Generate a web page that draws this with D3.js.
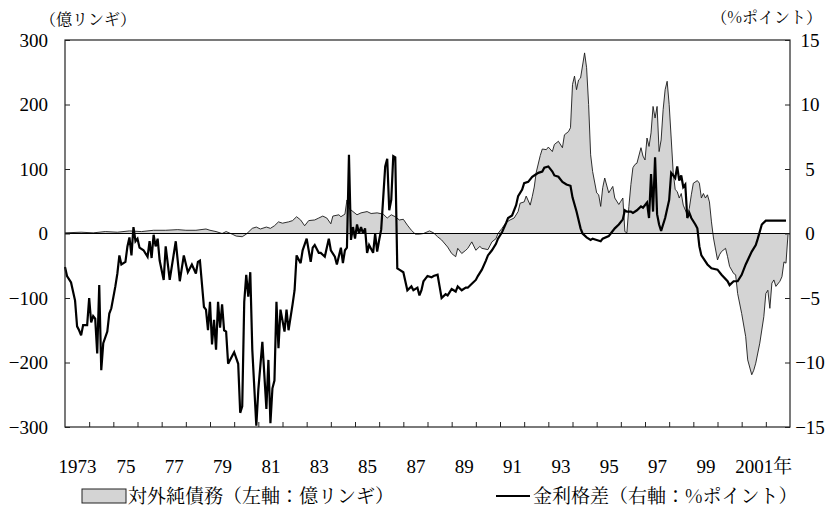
<!DOCTYPE html>
<html><head><meta charset="utf-8">
<script src="https://cdn.jsdelivr.net/npm/d3@7"></script>
<style>
body{margin:0;background:#fff;}
svg{display:block;}
.num{font-family:"Liberation Serif","Times New Roman",serif;font-size:19px;fill:#000;}
.jp{font-family:"Noto Serif CJK JP","Noto Sans CJK JP",sans-serif;font-size:16px;fill:#000;}
.lg{font-family:"Noto Serif CJK JP","Noto Sans CJK JP",sans-serif;font-size:19px;fill:#000;}
</style></head>
<body>
<svg id="c" width="839" height="518"></svg>
<script>
// ---- data ----
const spreadDates = ["1973-01","1973-02","1973-04","1973-06","1973-07","1973-08","1973-09","1973-10","1973-12","1974-01","1974-02","1974-03","1974-04","1974-05","1974-06","1974-07","1974-08","1974-10","1974-11","1974-12","1975-02","1975-03","1975-04","1975-05","1975-07","1975-08","1975-09","1975-10","1975-11","1975-12","1976-01","1976-02","1976-04","1976-06","1976-07","1976-08","1976-09","1976-10","1976-11","1976-12","1977-02","1977-03","1977-05","1977-08","1977-10","1977-12","1978-02","1978-04","1978-06","1978-07","1978-08","1978-10","1978-11","1978-12","1979-01","1979-02","1979-03","1979-04","1979-05","1979-06","1979-07","1979-08","1979-09","1979-10","1979-12","1980-01","1980-03","1980-04","1980-05","1980-06","1980-07","1980-08","1980-09","1980-10","1980-12","1981-01","1981-03","1981-05","1981-06","1981-07","1981-08","1981-09","1981-10","1981-11","1981-12","1982-02","1982-03","1982-04","1982-06","1982-07","1982-08","1982-10","1982-11","1983-01","1983-03","1983-04","1983-05","1983-07","1983-08","1983-10","1983-12","1984-01","1984-03","1984-04","1984-06","1984-07","1984-08","1984-09","1984-10","1984-11","1984-12","1985-01","1985-02","1985-03","1985-04","1985-05","1985-06","1985-07","1985-08","1985-10","1985-11","1985-12","1986-01","1986-02","1986-04","1986-05","1986-06","1986-07","1986-08","1986-09","1986-10","1986-11","1987-01","1987-02","1987-03","1987-05","1987-06","1987-08","1987-09","1987-10","1987-11","1987-12","1988-01","1988-03","1988-04","1988-06","1988-07","1988-08","1988-10","1988-11","1989-01","1989-03","1989-04","1989-06","1989-08","1989-09","1989-11","1990-01","1990-02","1990-04","1990-06","1990-07","1990-09","1990-11","1990-12","1991-02","1991-04","1991-05","1991-07","1991-09","1991-10","1991-12","1992-01","1992-03","1992-05","1992-06","1992-08","1992-10","1992-11","1993-01","1993-03","1993-04","1993-06","1993-08","1993-10","1993-12","1994-01","1994-03","1994-05","1994-06","1994-08","1994-10","1994-11","1995-01","1995-03","1995-04","1995-07","1995-08","1995-10","1995-12","1996-02","1996-03","1996-04","1996-06","1996-07","1996-09","1996-11","1996-12","1997-02","1997-03","1997-04","1997-05","1997-06","1997-07","1997-08","1997-09","1997-11","1998-01","1998-02","1998-04","1998-05","1998-06","1998-07","1998-08","1998-09","1998-10","1998-11","1998-12","1999-02","1999-03","1999-04","1999-05","1999-08","1999-10","2000-01","2000-03","2000-06","2000-07","2000-09","2000-11","2001-01","2001-03","2001-06","2001-08","2001-09","2001-11","2002-01","2002-06","2002-11"];
const spreadValues = [-2.6,-3.3,-3.8,-5.2,-7.2,-7.5,-7.9,-7.1,-7.1,-5.0,-6.9,-6.4,-6.6,-9.3,-4.0,-10.6,-8.5,-7.6,-6.2,-5.8,-4.1,-3.1,-1.7,-2.4,-2.2,-1.0,-0.3,-1.7,0.5,-0.6,-0.4,-1.1,-1.3,-1.8,-0.6,-1.9,-0.1,-1.0,-0.4,-2.1,-3.6,-1.0,-3.6,-0.6,-3.7,-1.7,-3.0,-2.4,-3.1,-2.2,-2.1,-5.7,-5.9,-7.5,-5.3,-8.6,-6.7,-9.0,-5.3,-7.3,-5.5,-7.5,-7.6,-10.1,-9.5,-9.2,-10.1,-13.9,-13.4,-5.3,-3.2,-4.9,-3.0,-9.0,-14.9,-12.1,-8.4,-13.6,-9.8,-14.7,-12.0,-11.4,-5.3,-8.9,-5.9,-7.6,-5.9,-7.5,-5.5,-4.4,-1.7,-2.3,-1.3,-0.4,-2.2,-1.1,-0.9,-1.5,-1.5,-1.8,-0.4,-1.3,-1.8,-2.4,-1.1,-2.3,-1.3,-1.1,6.1,-0.5,0.5,-0.4,0.7,0.0,0.5,0.0,0.4,-1.5,-0.9,-1.5,0.0,-1.4,-0.5,0.3,5.2,5.8,1.8,2.6,6.0,5.9,-2.7,-2.8,-3.0,-3.7,-4.4,-4.1,-4.4,-4.2,-4.8,-4.4,-3.7,-3.5,-3.3,-3.4,-3.3,-3.2,-4.1,-5.0,-4.7,-4.8,-4.3,-4.5,-4.1,-4.4,-4.2,-4.2,-3.9,-3.6,-3.3,-2.8,-2.1,-1.7,-1.3,-0.8,-0.4,0.1,0.8,1.2,1.4,2.2,2.9,3.4,3.9,4.0,4.4,4.5,4.7,4.8,5.1,5.2,4.8,4.5,4.4,4.0,3.8,3.7,2.8,1.7,0.4,0.0,-0.3,-0.5,-0.4,-0.5,-0.6,-0.4,-0.2,0.0,0.4,0.7,1.1,1.8,1.7,1.7,1.6,1.8,2.1,2.0,2.4,1.2,4.6,1.7,5.9,1.5,0.7,0.2,1.2,2.6,4.7,4.3,5.2,4.1,4.5,3.6,3.8,1.2,1.6,1.2,0.7,0.4,-1.0,-1.7,-2.4,-2.7,-2.8,-3.2,-3.7,-4.0,-3.7,-3.7,-3.2,-2.4,-1.4,-0.9,-0.4,0.7,1.0,1.0,1.0];

const debtDates = ["1973-01","1973-09","1974-03","1974-09","1975-03","1975-09","1976-03","1976-09","1977-03","1977-09","1978-01","1978-06","1978-11","1979-01","1979-04","1979-07","1979-09","1979-12","1980-02","1980-05","1980-07","1980-10","1980-12","1981-02","1981-05","1981-07","1981-09","1981-11","1982-01","1982-04","1982-06","1982-08","1982-10","1982-12","1983-02","1983-05","1983-07","1983-09","1983-11","1984-01","1984-02","1984-05","1984-06","1984-08","1984-09","1984-10","1984-12","1985-02","1985-04","1985-07","1985-09","1985-12","1986-03","1986-05","1986-07","1986-09","1986-11","1987-01","1987-03","1987-05","1987-07","1987-09","1987-11","1988-02","1988-04","1988-06","1988-08","1988-11","1989-01","1989-03","1989-04","1989-06","1989-08","1989-09","1989-11","1990-01","1990-03","1990-04","1990-07","1990-09","1990-11","1990-12","1991-02","1991-04","1991-06","1991-08","1991-10","1991-11","1992-01","1992-02","1992-04","1992-05","1992-06","1992-07","1992-09","1992-10","1992-12","1993-01","1993-03","1993-04","1993-06","1993-08","1993-09","1993-11","1993-12","1994-01","1994-02","1994-03","1994-04","1994-05","1994-07","1994-08","1994-09","1994-10","1994-11","1995-01","1995-02","1995-03","1995-04","1995-05","1995-07","1995-08","1995-09","1995-10","1995-12","1996-01","1996-02","1996-03","1996-04","1996-05","1996-06","1996-07","1996-08","1996-09","1996-11","1996-12","1997-01","1997-02","1997-03","1997-04","1997-05","1997-06","1997-07","1997-08","1997-09","1997-10","1997-11","1997-12","1998-01","1998-02","1998-03","1998-04","1998-05","1998-06","1998-07","1998-08","1998-10","1998-11","1998-12","1999-01","1999-03","1999-04","1999-05","1999-06","1999-07","1999-08","1999-09","1999-10","1999-11","2000-01","2000-02","2000-03","2000-05","2000-06","2000-07","2000-09","2000-10","2000-11","2001-01","2001-03","2001-04","2001-06","2001-07","2001-08","2001-10","2001-12","2002-01","2002-02","2002-03","2002-04","2002-05","2002-06","2002-08","2002-09","2002-10","2002-11","2002-12"];
const debtValues = [1,2,1,3,2,4,3,5,5,6,5,5,7,5,3,0,3,-1,-4,-5,-1,8,10,7,10,8,12,18,16,18,20,26,21,12,20,21,24,27,24,15,27,29,26,30,52,39,34,29,32,34,31,32,30,24,29,26,21,22,13,5,-1,-1,0,4,1,-5,-10,-21,-31,-36,-23,-31,-26,-23,-13,-26,-20,-23,-25,-13,-8,0,8,17,21,24,34,47,49,58,44,57,72,95,121,131,130,134,127,138,143,133,153,158,164,231,244,223,238,241,280,257,200,122,96,63,60,42,71,86,63,68,73,55,45,50,55,3,1,42,76,102,107,109,133,120,114,148,135,156,197,179,197,127,145,192,223,236,200,148,95,68,65,55,62,44,29,39,60,78,82,78,55,62,55,60,49,18,-7,-41,-33,-28,-23,-36,-51,-62,-64,-93,-124,-160,-196,-219,-212,-201,-170,-129,-93,-88,-116,-77,-72,-82,-74,-67,-44,-46,-2];

const leftTicks = [300,200,100,0,-100,-200,-300];
const rightTicks = [15,10,5,0,-5,-10,-15];
const xLabelYears = [1973,1975,1977,1979,1981,1983,1985,1987,1989,1991,1993,1995,1997,1999,2001];
const xLabels = ["1973","75","77","79","81","83","85","87","89","91","93","95","97","99","2001"];
const yearUnit = "年";
const leftUnit = "（億リンギ）";
const rightUnit = "（%ポイント）";
const legendDebt = "対外純債務（左軸：億リンギ）";
const legendSpread = "金利格差（右軸：%ポイント）";

// ---- helpers ----
const START = 1973, NMONTHS = 360;
const toMonth = s => { const [y,m] = s.split("-").map(Number); return (y-START)*12 + (m-1); };
const spread = spreadDates.map((d,i)=>({m:toMonth(d), v:spreadValues[i]}));
const debt = debtDates.map((d,i)=>({m:toMonth(d), v:debtValues[i]}));
const fmt = d => d < 0 ? "\u2212" + Math.abs(d) : String(d);

const L=65, R=790, T=40, B=427;
const svg = d3.select("#c");
const x = d3.scaleLinear().domain([0, NMONTHS]).range([L, R]);
const yL = d3.scaleLinear().domain([-300, 300]).range([B, T]);
const yR = d3.scaleLinear().domain([-15, 15]).range([B, T]);

// debt area
svg.append("path").datum(debt)
  .attr("d", d3.area().x(d=>x(d.m)).y0(yL(0)).y1(d=>yL(d.v)))
  .attr("fill", "#d4d4d4");
svg.append("path").datum(debt)
  .attr("d", d3.line().x(d=>x(d.m)).y(d=>yL(d.v)))
  .attr("fill", "none").attr("stroke", "#1a1a1a").attr("stroke-width", 0.9);

// zero line
svg.append("line").attr("x1", L).attr("x2", R).attr("y1", yL(0)).attr("y2", yL(0))
  .attr("stroke", "#000").attr("stroke-width", 1.2);

// spread line
svg.append("path").datum(spread)
  .attr("d", d3.line().x(d=>x(d.m)).y(d=>yR(d.v)))
  .attr("fill", "none").attr("stroke", "#000").attr("stroke-width", 2.2)
  .attr("stroke-linejoin", "miter").attr("stroke-miterlimit", 3);

// frame
svg.append("rect").attr("x", L).attr("y", T).attr("width", R-L).attr("height", B-T)
  .attr("fill", "none").attr("stroke", "#222").attr("stroke-width", 1.2);

// axes
const gl = svg.append("g").attr("transform", `translate(${L},0)`)
  .call(d3.axisLeft(yL).tickValues(leftTicks).tickSizeInner(-5).tickSizeOuter(0).tickPadding(17).tickFormat(fmt));
const gr = svg.append("g").attr("transform", `translate(${R},0)`)
  .call(d3.axisRight(yR).tickValues(rightTicks).tickSizeInner(-5).tickSizeOuter(0).tickPadding(20).tickFormat(fmt));
gr.selectAll("text").attr("text-anchor", "middle");
const gb = svg.append("g").attr("transform", `translate(0,${B})`)
  .call(d3.axisBottom(x).tickValues(d3.range(12, NMONTHS, 12)).tickSizeInner(-5).tickSizeOuter(0).tickFormat(""));
const gx = svg.append("g").attr("transform", `translate(0,${B})`)
  .call(d3.axisBottom(x).tickValues(xLabelYears.map(y=>(y-START)*12+6)).tickSize(0).tickPadding(33)
    .tickFormat((d,i)=>xLabels[i]));
[gl,gr,gb,gx].forEach(g=>{
  g.select(".domain").remove();
  g.selectAll("line").attr("stroke","#222").attr("stroke-width",1);
  g.selectAll("text").attr("class","num").attr("font-family",null).attr("font-size",null).attr("fill",null);
});
// year unit after last label
const lastTick = gx.selectAll(".tick").filter((d,i,n)=>i===n.length-1);
const lastText = lastTick.select("text");
const lw = lastText.node().getComputedTextLength();
lastTick.append("text").attr("class","jp").attr("x", lw/2).attr("y", lastText.attr("y"))
  .attr("dy", lastText.attr("dy")).attr("text-anchor","start").style("font-size","19px").text(yearUnit);

// unit labels
svg.append("text").attr("class","jp").attr("x", 40).attr("y", 25).text(leftUnit);
svg.append("text").attr("class","jp").attr("x", 822).attr("y", 23).attr("text-anchor","end").text(rightUnit);

// legend
const ly = 496;
svg.append("rect").attr("x", 82).attr("y", ly-7).attr("width", 44).attr("height", 14)
  .attr("fill", "#d4d4d4").attr("stroke", "#222").attr("stroke-width", 1);
svg.append("text").attr("class","lg").attr("x", 128).attr("y", ly+7).text(legendDebt);
svg.append("line").attr("x1", 496).attr("x2", 530).attr("y1", ly).attr("y2", ly)
  .attr("stroke","#000").attr("stroke-width",2);
svg.append("text").attr("class","lg").attr("x", 533).attr("y", ly+7).text(legendSpread);
</script>
</body></html>
